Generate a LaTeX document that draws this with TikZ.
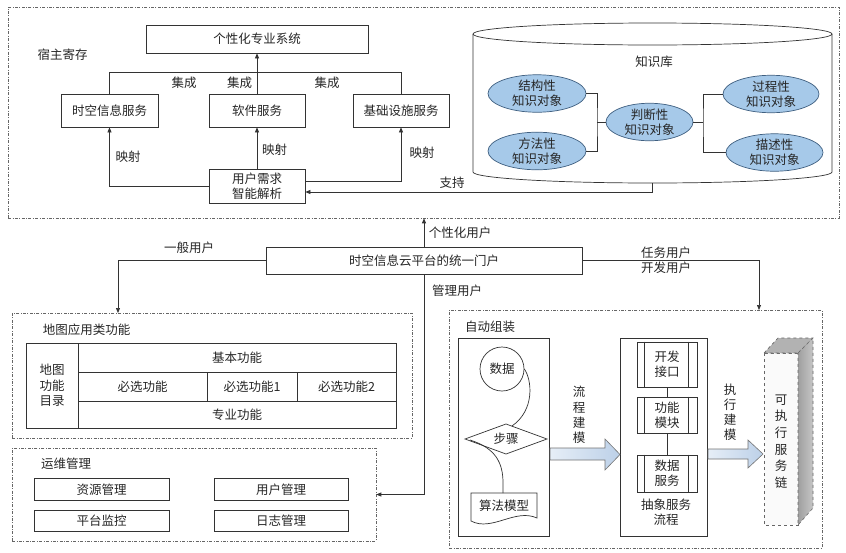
\documentclass[tikz,border=0pt]{standalone}
\usepackage{fontspec}
\setmainfont{Noto Sans CJK SC}
\usetikzlibrary{arrows.meta,shapes.geometric,calc}
\definecolor{kblue}{HTML}{A6C9E9}
\definecolor{kedge}{HTML}{3F5F80}
\definecolor{arrL}{HTML}{E6EEF7}
\definecolor{arrR}{HTML}{BCD0E8}
\begin{document}
\begin{tikzpicture}[x=1pt,y=-1pt,
  font=\fontsize{12.5}{15}\selectfont,
  ln/.style={draw=black!80, line width=0.7pt},
  arr/.style={ln, -{Triangle[length=5pt,width=4pt]}},
  box/.style={draw=black!80, line width=0.7pt, rectangle, inner sep=0pt, align=center, text=black!85},
  dbox/.style={draw=black!60, line width=0.6pt, dash pattern=on 3pt off 1.5pt on 0.8pt off 1.5pt, rectangle, inner sep=0pt},
  kobj/.style={ellipse, draw=kedge, line width=0.7pt, fill=kblue, inner sep=0pt, align=center, text=black!85},
  lbl/.style={inner sep=0pt, text=black!85, align=center},
  vtxt/.style={inner sep=0pt, text=black!85, align=center},
  barrow/.style={draw=black!55, line width=0.6pt, left color=arrL, right color=arrR}
]
\fill[white] (0,0) rectangle (846,552);
\useasboundingbox (0,0) rectangle (846,552);

% ---------- dashed regions ----------
\node[dbox, minimum width=831pt, minimum height=211pt] (topbox) at (423.5,112.5) {};
\node[dbox, minimum width=400pt, minimum height=125pt] (mapbox) at (212,375.5) {};
\node[dbox, minimum width=364pt, minimum height=93pt] (opsbox) at (194,494.5) {};
\node[dbox, minimum width=373pt, minimum height=238pt] (autobox) at (635.5,429) {};

% ---------- top left ----------
\node[box, minimum width=222pt, minimum height=28pt] (sys) at (257,39) {个性化专业系统};
\node[lbl] (host) at (62.5,55) {宿主寄存};
\node[box, minimum width=97pt, minimum height=33pt] (svc1) at (109.5,110.5) {时空信息服务};
\node[box, minimum width=96pt, minimum height=33pt] (svc2) at (257,110.5) {软件服务};
\node[box, minimum width=96pt, minimum height=33pt] (svc3) at (401,110.5) {基础设施服务};
\node[box, minimum width=96pt, minimum height=34pt] (ana) at (257,186) {用户需求\\智能解析};

\coordinate (i1) at (109.5,72);
\coordinate (i3) at (401,72);
\draw[ln] (svc1.north) -- (i1) -- (i3) -- (svc3.north);
\draw[arr] (svc2.north) -- (sys.south);
\node[lbl] (int1) at (184,83) {集成};
\node[lbl] (int2) at (239.5,83) {集成};
\node[lbl] (int3) at (327,83) {集成};

\draw[arr] (ana.west) -| (svc1.south);
\draw[arr] (ana.north) -- (svc2.south);
\draw[arr] ([yshift=5pt]ana.east) -| (svc3.south);
\node[lbl] (map1) at (128,157) {映射};
\node[lbl] (map2) at (274.5,150) {映射};
\node[lbl] (map3) at (422,153) {映射};

% ---------- knowledge base cylinder ----------
\draw[ln] (473,34) -- (473,172) arc[start angle=180, end angle=360, x radius=179.5pt, y radius=11pt] -- (832,34);
\draw[ln] (652.5,34) ellipse [x radius=179.5pt, y radius=11pt];
\node[lbl] (kb) at (654,62) {知识库};
\coordinate (cylb) at (652,183);
\draw[arr] (cylb) |- ([yshift=-6pt]ana.east);
\node[lbl] (support) at (452,183) {支持};

\node[kobj, minimum width=98pt, minimum height=32pt] (e1) at (537,93.5) {结构性\\知识对象};
\node[kobj, minimum width=98pt, minimum height=33pt] (e2) at (537,151) {方法性\\知识对象};
\node[kobj, minimum width=87pt, minimum height=33pt] (e3) at (649.5,122) {判断性\\知识对象};
\node[kobj, minimum width=96pt, minimum height=32pt] (e4) at (771,94) {过程性\\知识对象};
\node[kobj, minimum width=97pt, minimum height=33pt] (e5) at (774.5,152.5) {描述性\\知识对象};
\coordinate (jl) at (597,122);
\coordinate (jr) at (703,122);
\draw[ln] (e1.east) -| (jl) |- (e2.east);
\draw[ln] (jl) -- (e3.west);
\draw[ln] (e4.west) -| (jr) |- (e5.west);
\draw[ln] (e3.east) -- (jr);

% ---------- portal ----------
\node[box, minimum width=316pt, minimum height=27pt] (portal) at (424,260.5) {时空信息云平台的统一门户};
\draw[arr] (portal.north) -- (portal.north |- topbox.south);
\coordinate (gl) at (118,313);
\coordinate (gr) at (759,310);
\draw[arr] (portal.west) -| (gl);
\draw[arr] (portal.east) -| (gr);
\draw[arr] (portal.south) |- (opsbox.east);
\node[lbl] (u1) at (189,248) {一般用户};
\node[lbl] (u2) at (460,233) {个性化用户};
\node[lbl] (u3) at (666,253) {任务用户};
\node[lbl] (u4) at (666,268) {开发用户};
\node[lbl] (u5) at (457,291) {管理用户};

% ---------- map application functions ----------
\node[lbl] (maplbl) at (86.5,330) {地图应用类功能};
\node[box, minimum width=52pt, minimum height=85pt, font=\fontsize{12.5}{15.5}\selectfont] (dir) at (52,385.5) {地图\\功能\\目录};
\node[box, minimum width=318pt, minimum height=29pt] (basic) at (237,357.5) {基本功能};
\node[box, minimum width=129pt, minimum height=29pt] (opt0) at (142.5,386.5) {必选功能};
\node[box, minimum width=90pt, minimum height=29pt] (opt1) at (252,386.5) {必选功能1};
\node[box, minimum width=99pt, minimum height=29pt] (opt2) at (346.5,386.5) {必选功能2};
\node[box, minimum width=318pt, minimum height=27pt] (prof) at (237,414.5) {专业功能};

% ---------- operations ----------
\node[lbl] (opslbl) at (66,464) {运维管理};
\node[box, minimum width=135pt, minimum height=22pt] (res) at (101.5,489.5) {资源管理};
\node[box, minimum width=134pt, minimum height=22pt] (usr) at (281,489.5) {用户管理};
\node[box, minimum width=135pt, minimum height=21pt] (mon) at (101.5,521) {平台监控};
\node[box, minimum width=134pt, minimum height=21pt] (log) at (281,521) {日志管理};

% ---------- automatic assembly ----------
\node[lbl] (autolbl) at (490,327) {自动组装};
\node[box, minimum width=91pt, minimum height=198pt] (leftp) at (503.5,437) {};
\node[box, minimum width=87pt, minimum height=198pt] (midp) at (663.5,437) {};

\node[circle, draw=black!80, line width=0.7pt, minimum size=44pt, inner sep=0pt, text=black!85] (data) at (502,369) {数据};
\draw[ln] (465,439) -- (506,424) -- (547,439) -- (506,454) -- cycle;
\node[lbl] (step) at (506,439) {步骤};
\draw[ln] (471,493) -- (537,493) -- (537,518) .. controls (515,508) and (492,532) .. (471,521) -- cycle;
\node[lbl] (algo) at (504,506) {算法模型};
\draw[ln] (data.east) .. controls (532,380) and (535,410) .. (512,426);
\draw[ln] (470,440) .. controls (495,448) and (503,462) .. (503,483) -- (503,493);

\node[box, minimum width=60pt, minimum height=45pt] (dev) at (667,364.5) {开发\\接口};
\node[box, minimum width=60pt, minimum height=36pt] (func) at (667,415) {功能\\模块};
\node[box, minimum width=60pt, minimum height=37pt] (dsvc) at (667,473.5) {数据\\服务};
\foreach \n in {dev,func,dsvc}{
  \draw[ln] ([xshift=8pt]\n.north west) -- ([xshift=8pt]\n.south west);
  \draw[ln] ([xshift=-9pt]\n.north east) -- ([xshift=-9pt]\n.south east);
}
\draw[ln] (dev.south) -- (func.north);
\draw[ln] (func.south) -- (dsvc.north);
\node[lbl] (abs) at (666,512.5) {抽象服务\\流程};

\draw[barrow] (550,448) -- (605,448) -- (605,439) -- (620,454.5) -- (605,470) -- (605,460) -- (550,460) -- cycle;
\node[vtxt, font=\fontsize{12.5}{15.3}\selectfont] (flowlbl) at (579,415) {流\\程\\建\\模};
\draw[barrow] (708,449) -- (748,449) -- (748,440) -- (763,454) -- (748,468) -- (748,459) -- (708,459) -- cycle;
\node[vtxt, font=\fontsize{12.5}{15}\selectfont] (execlbl) at (730,412.5) {执\\行\\建\\模};

% 3D block
\draw[draw=black!60, line width=0.6pt, dashed, fill=gray!4] (764,353) rectangle (798,525);
\draw[draw=black!60, line width=0.6pt, dashed, fill=gray!60] (764,353) -- (778,338) -- (813,338) -- (798,353) -- cycle;
\draw[draw=black!60, line width=0.6pt, dashed, left color=gray!75, right color=gray!45] (798,353) -- (813,338) -- (813,508) -- (798,525) -- cycle;
\node[vtxt, font=\fontsize{12.5}{16.6}\selectfont] (chain) at (781,441.5) {可\\执\\行\\服\\务\\链};
\end{tikzpicture}
\end{document}
